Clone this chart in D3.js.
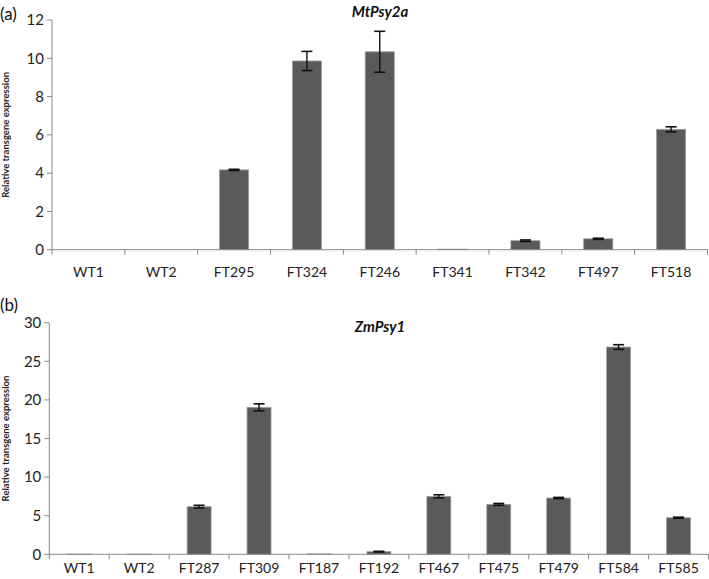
<!DOCTYPE html>
<html>
<head>
<meta charset="utf-8">
<style>
body { margin: 0; background: #fff; }
text { font-family: "Lato", "Open Sans", sans-serif; }
</style>
</head>
<body>
<div id="chart"></div>
<script src="https://cdn.jsdelivr.net/npm/d3@7"></script>
<script>
// Panel (a) MtPsy2a
var catsA = ["WT1", "WT2", "FT295", "FT324", "FT246", "FT341", "FT342", "FT497", "FT518"];
var valsA = [0, 0, 4.17, 9.86, 10.34, 0.03, 0.47, 0.57, 6.29];
var errsA = [0, 0, 0.03, 0.5, 1.07, 0, 0.04, 0.03, 0.13];
var ticksA = [0, 2, 4, 6, 8, 10, 12];

// Panel (b) ZmPsy1
var catsB = ["WT1", "WT2", "FT287", "FT309", "FT187", "FT192", "FT467", "FT475", "FT479", "FT584", "FT585"];
var valsB = [0.03, 0.03, 6.17, 19.04, 0.05, 0.34, 7.51, 6.47, 7.29, 26.85, 4.74];
var errsB = [0, 0, 0.18, 0.45, 0, 0.05, 0.2, 0.12, 0.08, 0.3, 0.07];
var ticksB = [0, 5, 10, 15, 20, 25, 30];

var svg = d3.select("#chart").append("svg")
    .attr("width", 709).attr("height", 579);

function panel(o) {
  var x = d3.scaleBand().domain(o.cats).range([o.x0, o.x1]).paddingInner(0.6).paddingOuter(0.3);
  var y = d3.scaleLinear().domain([0, o.ymax]).range([o.y0, o.y1]);
  var g = svg.append("g");

  // y axis
  g.append("line").attr("x1", o.x0).attr("x2", o.x0).attr("y1", y(0)).attr("y2", y(o.ymax))
    .attr("stroke", "#888").attr("stroke-width", 1);
  g.selectAll(".yt").data(o.ticks).enter().append("line")
    .attr("x1", o.x0 - 5).attr("x2", o.x0)
    .attr("y1", function(d) { return y(d); }).attr("y2", function(d) { return y(d); })
    .attr("stroke", "#888");
  g.selectAll(".yl").data(o.ticks).enter().append("text")
    .attr("x", o.x0 - 8).attr("y", function(d) { return y(d); })
    .attr("dy", "0.35em").attr("text-anchor", "end")
    .attr("font-size", 15).attr("fill", "#222")
    .text(function(d) { return d; });

  // bars
  g.selectAll(".bar").data(o.cats).enter().append("rect")
    .attr("x", function(d) { return x(d); })
    .attr("width", x.bandwidth())
    .attr("y", function(d, i) { return y(o.vals[i]); })
    .attr("height", function(d, i) { return y(0) - y(o.vals[i]); })
    .attr("fill", "#5a5a5a").attr("stroke", "#a0a0a0").attr("stroke-width", 0.8);

  // error bars
  o.cats.forEach(function(c, i) {
    if (!o.errs[i]) return;
    var cx = x(c) + x.bandwidth() / 2;
    var top = y(o.vals[i] + o.errs[i]), bot = y(o.vals[i] - o.errs[i]);
    g.append("line").attr("x1", cx).attr("x2", cx).attr("y1", top).attr("y2", bot)
      .attr("stroke", "#111").attr("stroke-width", 1.4);
    [top, bot].forEach(function(yy) {
      g.append("line").attr("x1", cx - 5.5).attr("x2", cx + 5.5).attr("y1", yy).attr("y2", yy)
        .attr("stroke", "#111").attr("stroke-width", 1.6);
    });
  });

  // x axis
  g.append("line").attr("x1", o.x0).attr("x2", o.x1).attr("y1", y(0)).attr("y2", y(0))
    .attr("stroke", "#888");
  var bounds = d3.range(o.cats.length + 1).map(function(i) { return o.x0 + i * (o.x1 - o.x0) / o.cats.length; });
  g.selectAll(".xt").data(bounds).enter().append("line")
    .attr("x1", function(d) { return d; }).attr("x2", function(d) { return d; })
    .attr("y1", y(0)).attr("y2", y(0) + 5).attr("stroke", "#888");
  g.selectAll(".xl").data(o.cats).enter().append("text")
    .attr("x", function(d) { return x(d) + x.bandwidth() / 2; })
    .attr("y", y(0) + o.xlab).attr("text-anchor", "middle")
    .attr("font-size", 14).attr("fill", "#222")
    .text(function(d) { return d; });

  // y label
  g.append("text")
    .attr("transform", "translate(" + o.labx + "," + ((y(0) + y(o.ymax)) / 2) + ") rotate(-90)")
    .attr("text-anchor", "middle").attr("font-size", 9.5).attr("font-weight", "bold").attr("fill", "#222")
    .text("Relative transgene expression");

  // title
  g.append("text").attr("x", o.tx).attr("y", o.ty).attr("text-anchor", "middle")
    .attr("font-size", 15).attr("font-weight", "bold").attr("font-style", "italic").attr("fill", "#111")
    .text(o.title);

  // panel letter
  g.append("text").attr("x", 0).attr("y", o.ly)
    .attr("font-size", 17).attr("fill", "#111").text(o.letter);
}

panel({cats: catsA, vals: valsA, errs: errsA, ticks: ticksA, ymax: 12,
  x0: 52, x1: 707.5, y0: 249.7, y1: 20, labx: 9, tx: 380, ty: 17, xlab: 27,
  title: "MtPsy2a", letter: "(a)", ly: 20});

panel({cats: catsB, vals: valsB, errs: errsB, ticks: ticksB, ymax: 30,
  x0: 49.3, x1: 708.5, y0: 554.3, y1: 322.7, labx: 9, tx: 380, ty: 332, xlab: 19,
  title: "ZmPsy1", letter: "(b)", ly: 311});
</script>
</body>
</html>
